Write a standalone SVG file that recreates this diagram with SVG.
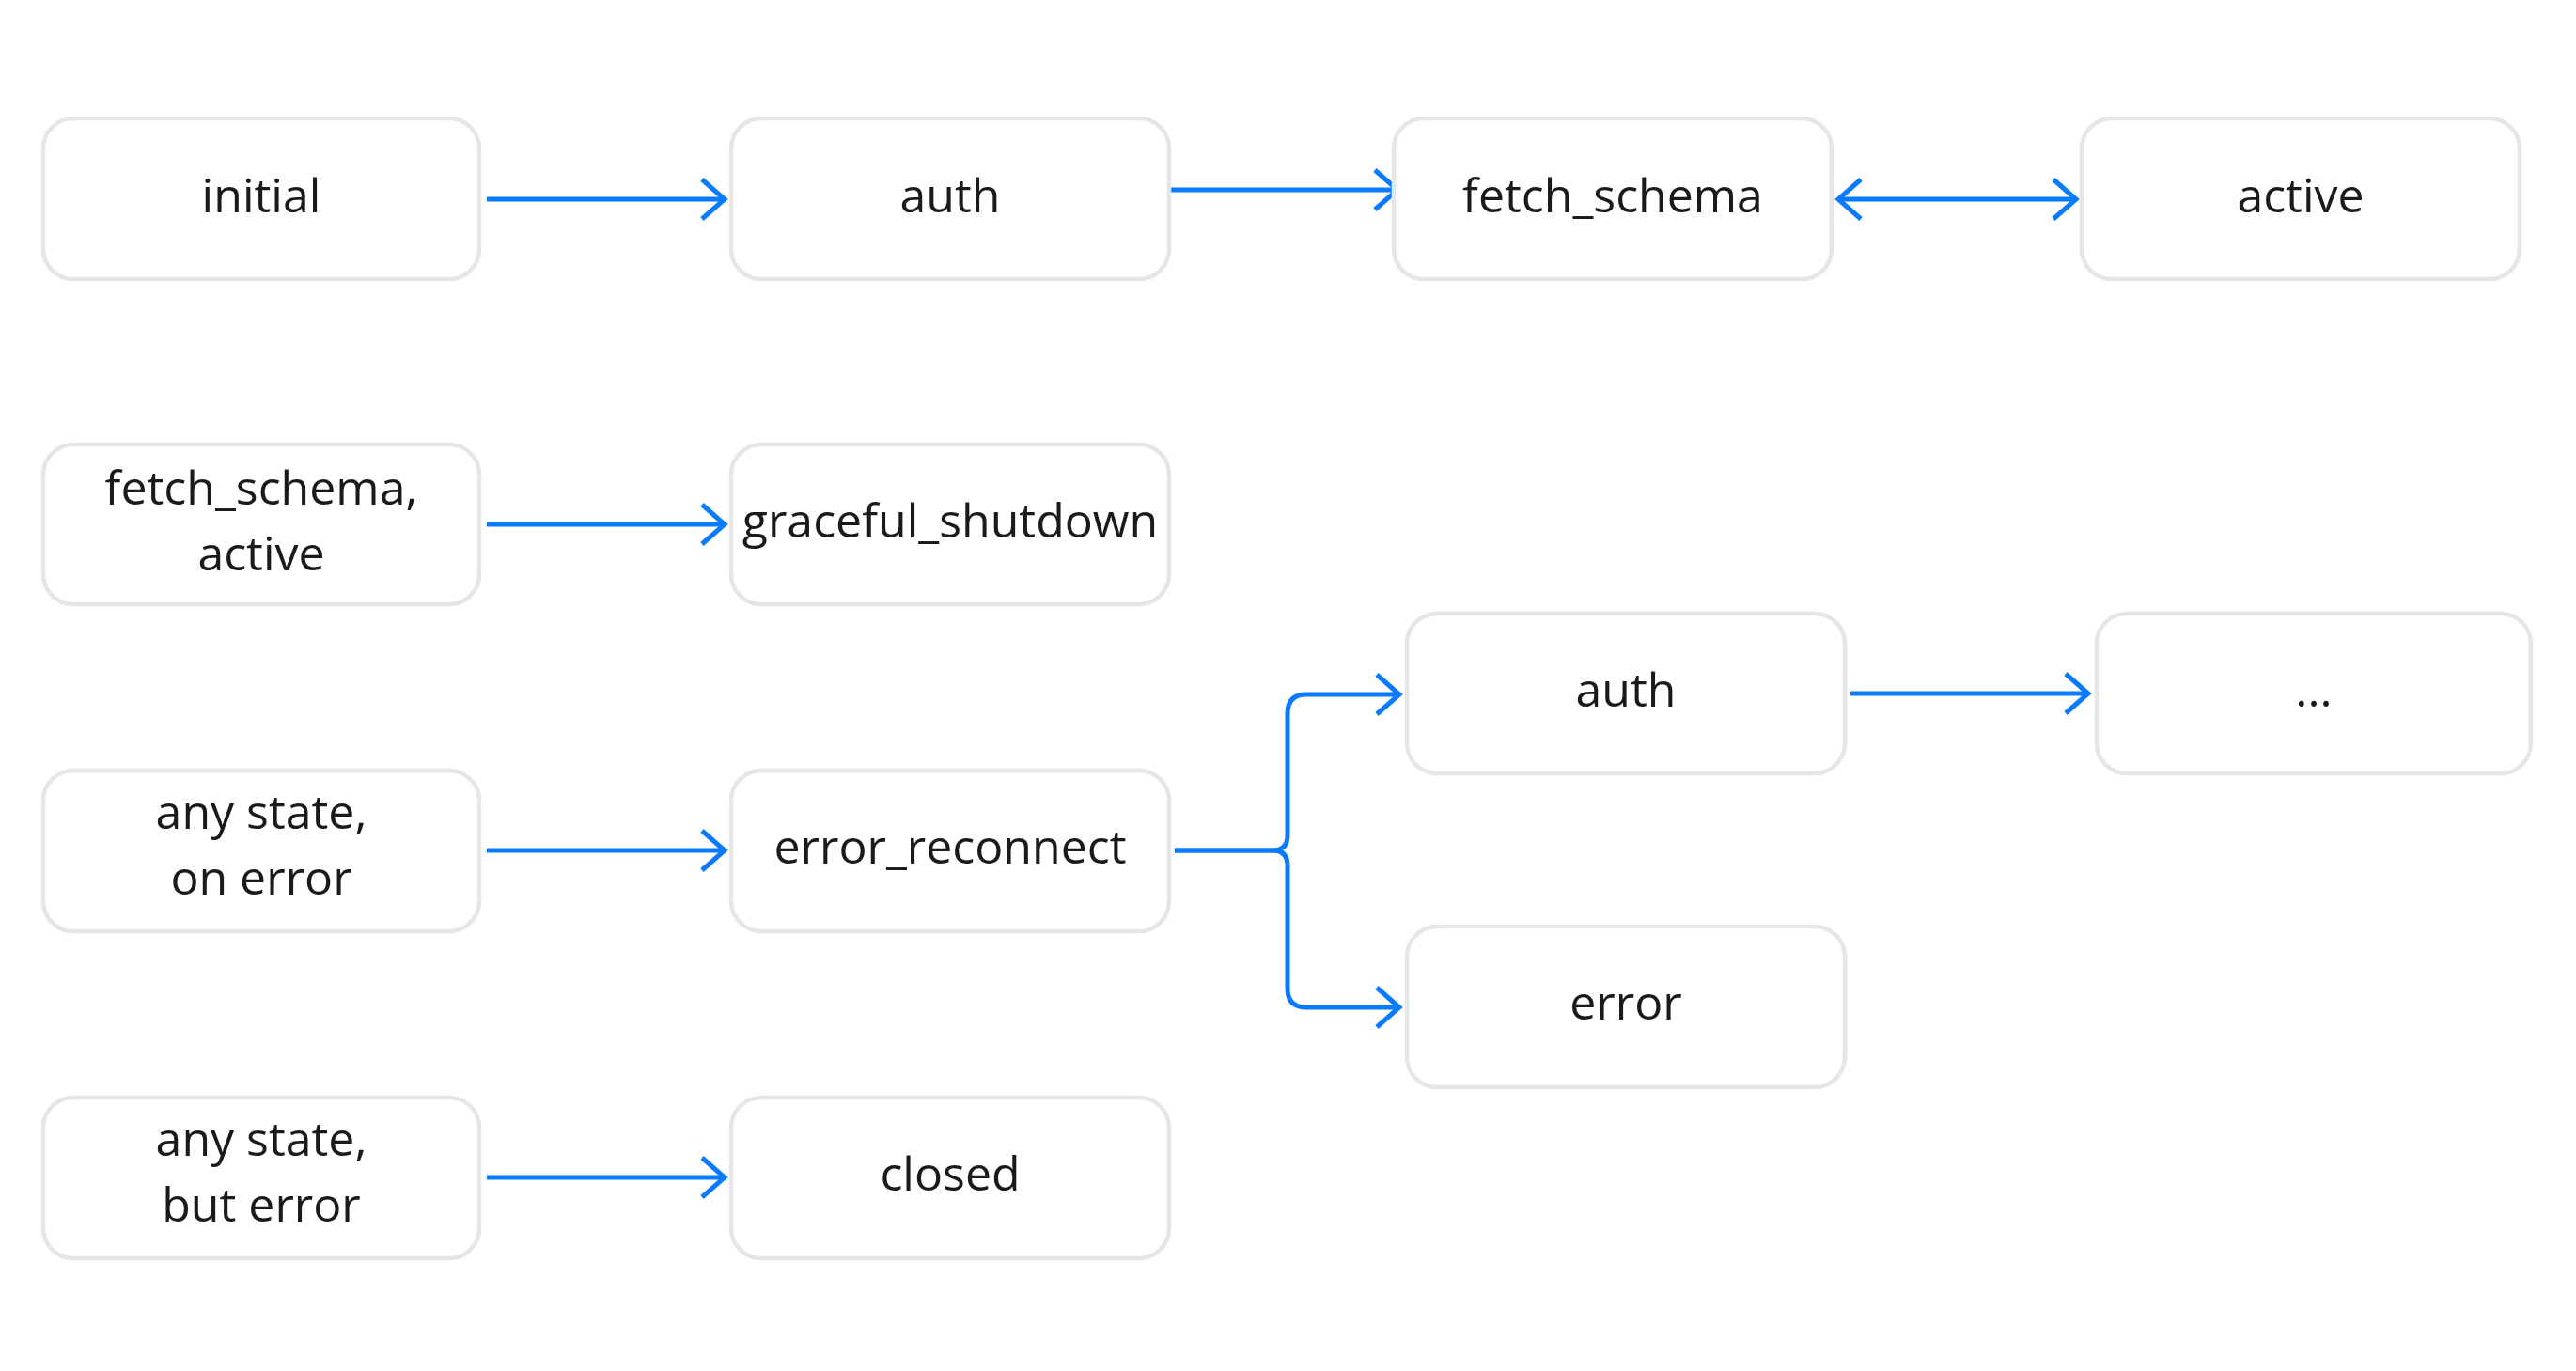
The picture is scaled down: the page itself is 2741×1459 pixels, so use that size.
<svg xmlns="http://www.w3.org/2000/svg" width="2741" height="1459" viewBox="0 0 2741 1459">
<defs>
<style>
.box rect{fill:#ffffff;stroke:#e6e6e6;stroke-width:4.5}
.box text{font-family:"Open Sans","Noto Sans","DejaVu Sans",sans-serif;font-size:50px;fill:#1a1a1a;text-anchor:middle}
.edge{fill:none;stroke:#0a7bff;stroke-width:5}
</style>
<marker id="ah" markerUnits="userSpaceOnUse" markerWidth="40" markerHeight="60" viewBox="-30 -30 40 60" refX="0" refY="0" orient="auto-start-reverse" overflow="visible">
<path d="M-24 -21 L0 0 L-24 21" fill="none" stroke="#0a7bff" stroke-width="5" stroke-linejoin="miter"/>
</marker>
</defs>
<rect width="2741" height="1459" fill="#ffffff"/>

<g id="connectors">
<path class="edge" d="M518 212 H771" marker-end="url(#ah)"/>
<path class="edge" d="M1233 202 H1487" marker-end="url(#ah)"/>
<path class="edge" d="M1956 212 H2209" marker-start="url(#ah)" marker-end="url(#ah)"/>
<path class="edge" d="M518 558 H771" marker-end="url(#ah)"/>
<path class="edge" d="M518 905 H771" marker-end="url(#ah)"/>
<path class="edge" d="M518 1253 H771" marker-end="url(#ah)"/>
<path class="edge" d="M1250 905 H1354 Q1370 905 1370 889 V759 Q1370 739 1390 739 H1489" marker-end="url(#ah)"/>
<path class="edge" d="M1250 905 H1354 Q1370 905 1370 921 V1052 Q1370 1072 1390 1072 H1489" marker-end="url(#ah)"/>
<path class="edge" d="M1969 738 H2222" marker-end="url(#ah)"/>
</g>

<g id="n-initial" class="box"><rect x="46" y="126" width="464" height="171" rx="32"/><text x="278" y="226">initial</text></g>
<g id="n-auth" class="box"><rect x="778" y="126" width="466" height="171" rx="32"/><text x="1011" y="226">auth</text></g>
<g id="n-fetch-schema" class="box"><rect x="1483" y="126" width="466" height="171" rx="32"/><text x="1716" y="226">fetch_schema</text></g>
<g id="n-active" class="box"><rect x="2215" y="126" width="466" height="171" rx="32"/><text x="2448" y="226">active</text></g>

<g id="n-fetch-active" class="box"><rect x="46" y="473" width="464" height="170" rx="32"/><text x="278" y="537">fetch_schema,</text><text x="278" y="607">active</text></g>
<g id="n-graceful" class="box"><rect x="778" y="473" width="466" height="170" rx="32"/><text x="1011" y="572">graceful_shutdown</text></g>

<g id="n-auth2" class="box"><rect x="1497" y="653" width="466" height="170" rx="32"/><text x="1730" y="752">auth</text></g>
<g id="n-more" class="box"><rect x="2231" y="653" width="462" height="170" rx="32"/><text x="2462" y="752">...</text></g>

<g id="n-any-on-error" class="box"><rect x="46" y="820" width="464" height="171" rx="32"/><text x="278" y="882">any state,</text><text x="278" y="952">on error</text></g>
<g id="n-error-reconnect" class="box"><rect x="778" y="820" width="466" height="171" rx="32"/><text x="1011" y="919">error_reconnect</text></g>

<g id="n-error" class="box"><rect x="1497" y="986" width="466" height="171" rx="32"/><text x="1730" y="1085">error</text></g>

<g id="n-any-but-error" class="box"><rect x="46" y="1168" width="464" height="171" rx="32"/><text x="278" y="1230">any state,</text><text x="278" y="1300">but error</text></g>
<g id="n-closed" class="box"><rect x="778" y="1168" width="466" height="171" rx="32"/><text x="1011" y="1267">closed</text></g>
</svg>
